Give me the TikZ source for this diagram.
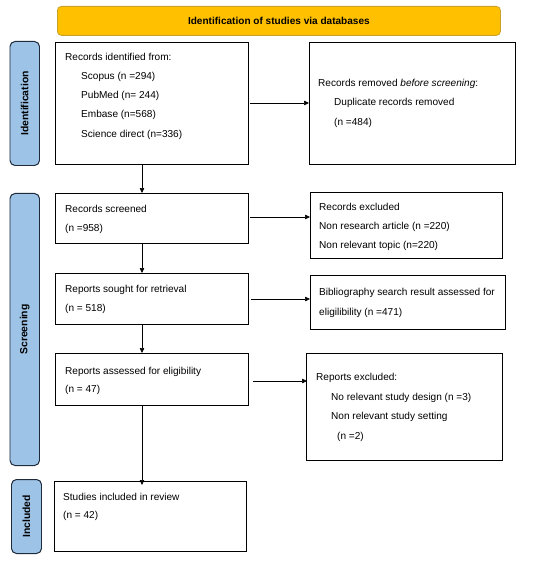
\documentclass[tikz,border=0pt]{standalone}
\usepackage{fontspec}
\setmainfont{Liberation Sans}
\usetikzlibrary{arrows.meta}
\definecolor{hdrfill}{HTML}{FFC000}
\definecolor{hdrdraw}{HTML}{C9A227}
\definecolor{sidefill}{HTML}{9DC3E6}
\definecolor{sidedraw}{HTML}{1F2A3A}
\tikzset{
  box/.style={draw=black, line width=0.9pt, inner sep=0pt, anchor=north west},
  txt/.style={anchor=west, inner sep=0pt, font=\fontsize{10.1}{12}\selectfont},
  side/.style={draw=sidedraw, fill=sidefill, line width=1pt, rounded corners=5pt, inner sep=0pt, anchor=north west},
  sidetxt/.style={rotate=90, font=\bfseries\fontsize{10.4}{12}\selectfont},
  hdr/.style={draw=hdrdraw, fill=hdrfill, line width=0.8pt, rounded corners=4pt, inner sep=0pt, anchor=north west},
  arr/.style={-{Triangle[length=5pt,width=4.5pt]}, line width=0.6pt}
}
\begin{document}
\begin{tikzpicture}[x=1bp,y=-1bp]
\useasboundingbox (0,0) rectangle (550,562);
% header
\node[hdr, minimum width=443bp, minimum height=29bp] (hdr) at (57,6) {};
\node[font=\bfseries\fontsize{10.1}{12}\selectfont] (hdrt) at (hdr.center) {Identification of studies via databases};
% side labels
\node[side, minimum width=29.5bp, minimum height=124bp] (sid) at (9.5,41) {};
\node[sidetxt] (sidt) at (sid.center) {Identification};
\node[side, minimum width=29.5bp, minimum height=272bp] (ssc) at (9.5,193) {};
\node[sidetxt] (ssct) at (ssc.center) {Screening};
\node[side, minimum width=30bp, minimum height=74bp] (sin) at (11,479) {};
\node[sidetxt] (sint) at (sin.center) {Included};
% boxes
\node[box, minimum width=193bp, minimum height=122bp] (b1) at (55,42) {};
\node[box, minimum width=206bp, minimum height=122bp] (b2) at (309,42) {};
\node[box, minimum width=193bp, minimum height=50bp] (b3) at (55,193) {};
\node[box, minimum width=192bp, minimum height=66bp] (b4) at (310,192) {};
\node[box, minimum width=193bp, minimum height=51bp] (b5) at (55,273) {};
\node[box, minimum width=195bp, minimum height=54bp] (b6) at (310,275) {};
\node[box, minimum width=193bp, minimum height=52bp] (b7) at (55,353) {};
\node[box, minimum width=196bp, minimum height=107bp] (b8) at (306,353) {};
\node[box, minimum width=192bp, minimum height=70bp] (b9) at (54,481) {};
% texts
\node[txt] (t11) at (65,57) {Records identified from:};
\node[txt] (t12) at (81,77) {Scopus (n =294)};
\node[txt] (t13) at (81,96) {PubMed (n= 244)};
\node[txt] (t14) at (81,115) {Embase (n=568)};
\node[txt] (t15) at (81,135) {Science direct (n=336)};
\node[txt] (t21) at (318,84) {Records removed \textit{before screening}:};
\node[txt] (t22) at (334,103) {Duplicate records removed};
\node[txt] (t23) at (334,123) {(n =484)};
\node[txt] (t31) at (65,209) {Records screened};
\node[txt] (t32) at (65,229) {(n =958)};
\node[txt] (t41) at (319,207) {Records excluded};
\node[txt] (t42) at (319,227) {Non research article (n =220)};
\node[txt] (t43) at (319,246) {Non relevant topic (n=220)};
\node[txt] (t51) at (65,290) {Reports sought for retrieval};
\node[txt] (t52) at (65,309) {(n = 518)};
\node[txt] (t61) at (319,293) {Bibliography search result assessed for};
\node[txt] (t62) at (319,313) {eligilibility (n =471)};
\node[txt] (t71) at (65,372) {Reports assessed for eligibility};
\node[txt] (t72) at (65,390) {(n = 47)};
\node[txt] (t81) at (316,378) {Reports excluded:};
\node[txt] (t82) at (331,398) {No relevant study design (n =3)};
\node[txt] (t83) at (331,417) {Non relevant study setting};
\node[txt] (t84) at (337,437) {(n =2)};
\node[txt] (t91) at (63,497) {Studies included in review};
\node[txt] (t92) at (63,516) {(n = 42)};
% arrows
\draw[arr] (b1.south -| 142,0) -- (b3.north -| 142,0);
\draw[arr] (b3.south -| 142,0) -- (b5.north -| 142,0);
\draw[arr] (b5.south -| 142,0) -- (b7.north -| 142,0);
\draw[arr] (b7.south -| 142,0) -- ([yshift=-4bp]b9.north -| 142,0);
\draw[arr] ([xshift=1bp]b1.east |- 0,103) -- (b2.west |- 0,103);
\draw[arr] ([xshift=1bp]b3.east |- 0,217) -- (b4.west |- 0,217);
\draw[arr] ([xshift=2bp]b5.east |- 0,299) -- (b6.west |- 0,299);
\draw[arr] ([xshift=4bp]b7.east |- 0,381) -- ([xshift=1bp]b8.west |- 0,381);
\end{tikzpicture}
\end{document}
